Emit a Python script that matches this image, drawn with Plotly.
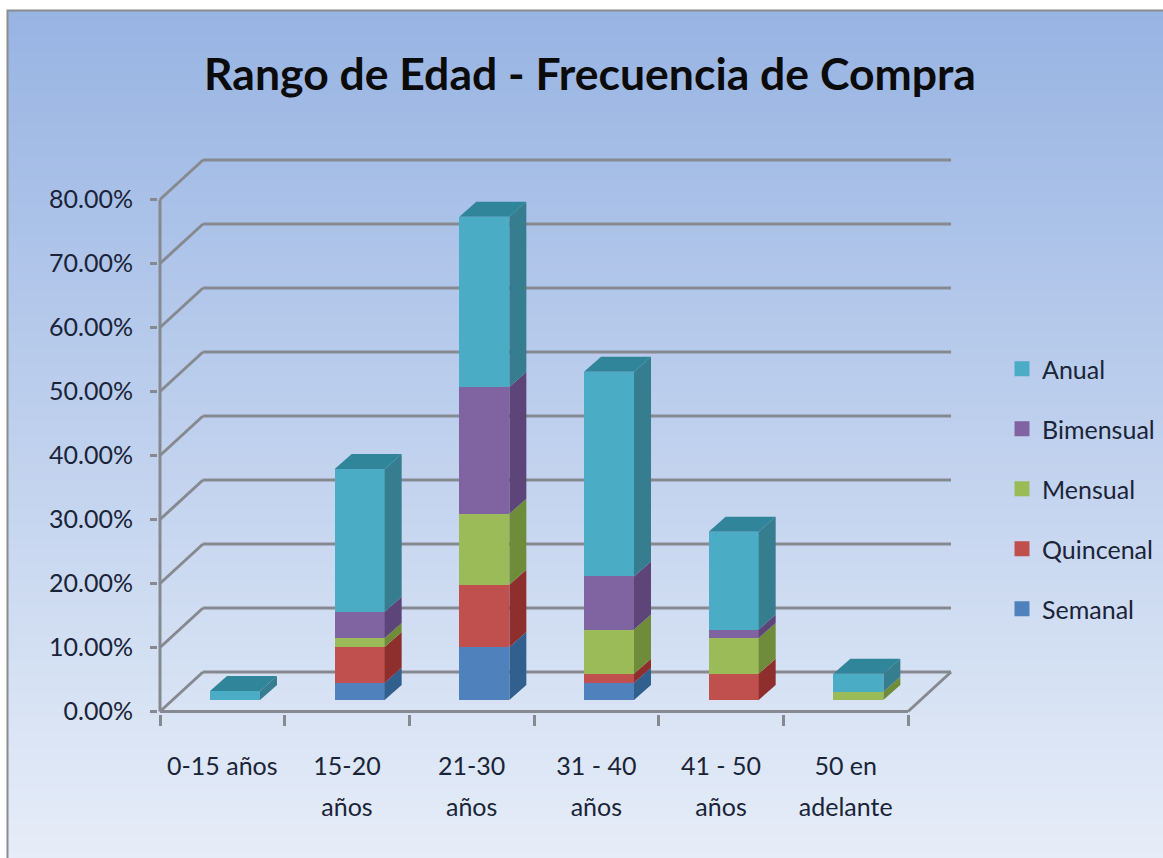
import base64, struct, zlib
import plotly.graph_objects as go

categories = ["0-15 años", "15-20<br>años", "21-30<br>años", "31 - 40<br>años", "41 - 50<br>años", "50 en<br>adelante"]
semanal = [0, 2.7, 8.3, 2.7, 0, 0]
quincenal = [0, 5.6, 9.7, 1.4, 4.1, 0]
mensual = [0, 1.4, 11.1, 6.9, 5.6, 1.3]
bimensual = [0, 4.1, 19.8, 8.3, 1.3, 0]
anual = [1.4, 22.3, 26.6, 32.0, 15.3, 2.8]
series_names = ["Semanal", "Quincenal", "Mensual", "Bimensual", "Anual"]
series_values = [semanal, quincenal, mensual, bimensual, anual]
front_colors = ["#4f81bd", "#c0504d", "#9bbb59", "#8064a2", "#4bacc6"]
side_colors = ["#31608f", "#8f2f2d", "#6f8c3b", "#5d4479", "#377d90"]
top_color = "#31859b"
y_ticks = [0, 10, 20, 30, 40, 50, 60, 70, 80]

W, H = 1163, 858
FONT = "Lato"
TXT = "#1a2438"
GRAY = "#868a90"
# pixel scale of the axes
PX_X = 124.67   # pixels per category
PX_Y = 6.4      # pixels per percent
X0, Y0 = 160, 711.5
def xd(px): return (px - X0) / PX_X
def yd(py): return (Y0 - py) / PX_Y

# depth of wall and bars, in data units
WALL_DX, WALL_DY = 43 / PX_X, 39.5 / PX_Y
BAR_DX, BAR_DY = 17 / PX_X, 15 / PX_Y
BAR_BASE = 11.5 / PX_Y
BAR_W = 50 / PX_X
BAR_SHIFT = 50 / PX_X + BAR_W / 2


def gradient_png(w, h, top, bottom):
    rows = b""
    for j in range(h):
        t = j / (h - 1)
        rgb = bytes(int(round(a + (b - a) * t)) for a, b in zip(top, bottom))
        rows += b"\0" + rgb * w
    def chunk(tag, data):
        return struct.pack(">I", len(data)) + tag + data + struct.pack(">I", zlib.crc32(tag + data))
    png = b"\x89PNG\r\n\x1a\n" + chunk(b"IHDR", struct.pack(">IIBBBBB", w, h, 8, 2, 0, 0, 0))
    png += chunk(b"IDAT", zlib.compress(rows)) + chunk(b"IEND", b"")
    return "data:image/png;base64," + base64.b64encode(png).decode()


fig = go.Figure()
n = len(categories)
centers = [i + BAR_SHIFT for i in range(n)]
cum = [BAR_BASE] * n
tops = [BAR_BASE] * n
for vals in series_values:
    tops = [t + v for t, v in zip(tops, vals)]

for k, (name, vals, fc, sc) in enumerate(zip(series_names, series_values, front_colors, side_colors)):
    fig.add_trace(go.Bar(x=centers, y=vals, base=list(cum), width=BAR_W, name=name,
                         marker=dict(color=fc, line=dict(width=0)), showlegend=False,
                         legendgroup=name, hoverinfo="skip"))
    fig.add_trace(go.Bar(x=[None], y=[None], name=name, legendgroup=name, legendrank=100 - k,
                         marker=dict(color=fc, line=dict(width=3, color=fc)), hoverinfo="skip"))
    sx, sy = [], []
    for i, v in enumerate(vals):
        if v <= 0:
            continue
        r = centers[i] + BAR_W / 2
        sx += [r, r + BAR_DX, r + BAR_DX, r, r, None]
        sy += [cum[i], cum[i] + BAR_DY, cum[i] + v + BAR_DY, cum[i] + v, cum[i], None]
    fig.add_trace(go.Scatter(x=sx, y=sy, mode="lines", fill="toself", fillcolor=sc,
                             line=dict(width=0, color=sc), showlegend=False, hoverinfo="skip"))
    cum = [c + v for c, v in zip(cum, vals)]

tx, ty = [], []
for i in range(n):
    l, r = centers[i] - BAR_W / 2, centers[i] + BAR_W / 2
    tx += [l, r, r + BAR_DX, l + BAR_DX, l, None]
    ty += [tops[i], tops[i], tops[i] + BAR_DY, tops[i] + BAR_DY, tops[i], None]
fig.add_trace(go.Scatter(x=tx, y=ty, mode="lines", fill="toself", fillcolor=top_color,
                         line=dict(width=0, color=top_color), showlegend=False, hoverinfo="skip"))

shapes = [dict(type="rect", xref="paper", yref="paper", x0=7.5 / W, x1=1.01, y0=-0.01, y1=1 - 10.5 / H,
               line=dict(color="#8c8c8c", width=2), fillcolor="rgba(0,0,0,0)", layer="below")]
line = dict(color=GRAY, width=3)
for v in y_ticks:
    shapes.append(dict(type="line", xref="x", yref="y", x0=0, y0=v, x1=WALL_DX, y1=v + WALL_DY, line=line, layer="below"))
    shapes.append(dict(type="line", xref="x", yref="y", x0=WALL_DX, y0=v + WALL_DY, x1=n + WALL_DX, y1=v + WALL_DY, line=line, layer="below"))
shapes.append(dict(type="line", xref="x", yref="y", x0=n, y0=0, x1=n + WALL_DX, y1=WALL_DY, line=line, layer="below"))
shapes.append(dict(type="line", xref="x", yref="y", x0=0, y0=0, x1=n, y1=0, line=line, layer="below"))
shapes.append(dict(type="line", xref="x", yref="y", x0=0, y0=0, x1=0, y1=y_ticks[-1], line=line, layer="below"))

LABEL = 25
def sized(text):
    # larger base size on the axis gives the wide line spacing of the original
    return "<br>".join(f'<span style="font-size:{LABEL}px">{p}</span>' for p in text.split("<br>"))

fig.update_layout(
    width=W, height=H, margin=dict(l=0, r=0, t=0, b=0),
    paper_bgcolor="white", plot_bgcolor="rgba(0,0,0,0)",
    barmode="overlay", bargap=0,
    font=dict(family=FONT, color=TXT, size=LABEL),
    title=dict(text="<b>Rango de Edad - Frecuencia de Compra</b>", x=590 / W, xanchor="center",
               y=1 - 74 / H, yanchor="middle", font=dict(family=FONT, size=44.5, color="#0b0b0b")),
    xaxis=dict(domain=[158 / W, 953 / W], range=[xd(158), xd(953)], automargin=False,
               tickvals=[i + 0.5 for i in range(n)], ticktext=[sized(c) for c in categories],
               ticks="", showline=False, showgrid=False, zeroline=False, ticklabelstandoff=28,
               minor=dict(tickvals=list(range(n + 1)), ticks="outside", ticklen=11, tickwidth=3, tickcolor=GRAY),
               tickfont=dict(size=32, color=TXT)),
    yaxis=dict(domain=[(H - 713.5) / H, (H - 155) / H], range=[yd(713.5), yd(155)], automargin=False,
               tickvals=y_ticks, ticktext=[f"{v:.2f}%" for v in y_ticks],
               ticks="outside", ticklen=7, tickwidth=3, tickcolor=GRAY,
               showline=False, showgrid=False, zeroline=False, ticklabelstandoff=12,
               tickfont=dict(size=LABEL, color=TXT)),
    legend=dict(x=1002 / W, xanchor="left", y=1 - 346 / H, yanchor="top",
                traceorder="grouped", tracegroupgap=24.5, bgcolor="rgba(0,0,0,0)",
                font=dict(size=LABEL, color=TXT), itemclick=False, itemdoubleclick=False),
    images=[dict(source=gradient_png(8, 256, (0x98, 0xB4, 0xE3), (0xE6, 0xED, 0xF8)),
                 xref="paper", yref="paper", x=7 / W, y=1 - 10 / H, sizex=1 - 7 / W, sizey=1 - 10 / H,
                 xanchor="left", yanchor="top", sizing="stretch", layer="below")],
    shapes=shapes,
)
fig.write_html("out.html", config=dict(displayModeBar=False),
               post_script="document.body.style.margin='0';")
